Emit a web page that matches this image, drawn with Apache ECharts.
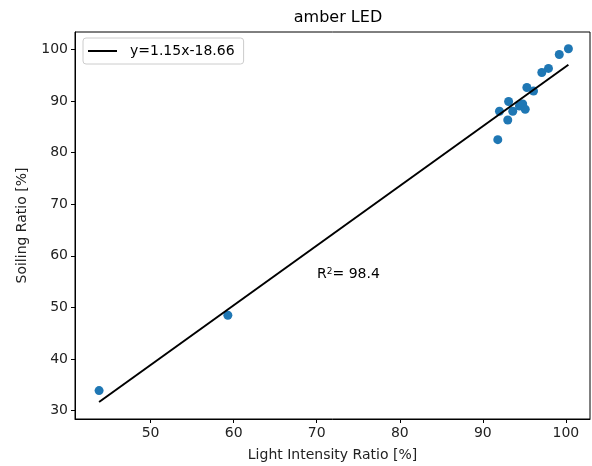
<!DOCTYPE html>
<html><head><meta charset="utf-8">
<script src="https://cdn.jsdelivr.net/npm/echarts@6/dist/echarts.min.js"></script>
<style>html,body{margin:0;padding:0;background:#fff}#c{width:592px;height:466px}</style>
</head><body><div id="c"></div>
<script>
const lightRatio   = [43.8, 59.3, 91.8, 92.0, 93.0, 93.1, 93.6, 94.4, 94.8, 95.1, 95.3, 96.1, 97.1, 97.9, 99.2, 100.3];
const soilingRatio = [33.9, 48.5, 82.5, 88.0, 86.3, 89.9, 88.0, 89.0, 89.4, 88.4, 92.6, 91.9, 95.5, 96.3, 99.0, 100.1];
const fitX = [43.8, 100.3];
const fitY = [31.7, 97.0];
const xTicks = [50, 60, 70, 80, 90, 100];
const yTicks = [30, 40, 50, 60, 70, 80, 90, 100];
const fitLabel = 'y=1.15x-18.66';
const titleText = 'amber LED';

const font = 'DejaVu Sans';
const chart = echarts.init(document.getElementById('c'), null, {renderer: 'canvas'});
chart.setOption({
  animation: false,
  title: {text: titleText, left: 333, top: 5, textAlign: 'center',
    textStyle: {fontFamily: font, fontWeight: 'normal', fontSize: 16, color: '#000'}},
  grid: {left: 75, right: 2, top: 32, bottom: 47, show: true, borderColor: '#000', borderWidth: 1,
    containLabel: false, outerBoundsMode: 'none'},
  legend: {left: 83, top: 38, padding: [6, 9, 6, 5], borderColor: '#ccc', borderWidth: 1, borderRadius: 3,
    backgroundColor: 'rgba(255,255,255,0.8)', itemWidth: 29, itemHeight: 2, icon: 'rect',
    textStyle: {fontFamily: font, fontSize: 14, color: '#000', padding: [0, 0, 0, 8]},
    data: [{name: fitLabel, icon: 'rect', itemStyle: {color: '#000'}}]},
  xAxis: {type: 'value', min: 40.9, max: 102.9,
    name: 'Light Intensity Ratio [%]', nameLocation: 'middle', nameGap: 29,
    nameTextStyle: {fontFamily: font, fontSize: 14, color: '#222'},
    axisLine: {show: true, onZero: false, lineStyle: {color: '#000', width: 1}},
    axisTick: {show: true, length: 4, customValues: xTicks, lineStyle: {color: '#000'}},
    axisLabel: {customValues: xTicks, fontFamily: font, fontSize: 14, color: '#222', margin: 7},
    splitLine: {show: false}},
  yAxis: {type: 'value', min: 28.4, max: 103.35,
    name: 'Soiling Ratio [%]', nameLocation: 'middle', nameGap: 46,
    nameTextStyle: {fontFamily: font, fontSize: 14, color: '#222'},
    axisLine: {show: true, onZero: false, lineStyle: {color: '#000', width: 1}},
    axisTick: {show: true, length: 4, customValues: yTicks, lineStyle: {color: '#000'}},
    axisLabel: {customValues: yTicks, fontFamily: font, fontSize: 14, color: '#222', margin: 7},
    splitLine: {show: false}},
  series: [
    {name: fitLabel, type: 'line', data: fitX.map((x, i) => [x, fitY[i]]), symbol: 'none',
      lineStyle: {color: '#000', width: 2}, itemStyle: {color: '#000'}, z: 3},
    {name: 'data', type: 'scatter', data: lightRatio.map((x, i) => [x, soilingRatio[i]]),
      symbolSize: 9, itemStyle: {color: '#1f77b4', opacity: 1}, z: 2}
  ],
  graphic: [{type: 'text', left: 317, top: 267,
    style: {text: '{a|R}{s|2}{a|= 98.4}', fill: '#000',
      rich: {a: {fontFamily: font, fontSize: 14}, s: {fontFamily: font, fontSize: 9, verticalAlign: 'top', padding: [0, 0, 6, 0]}}}}]
});
</script></body></html>
